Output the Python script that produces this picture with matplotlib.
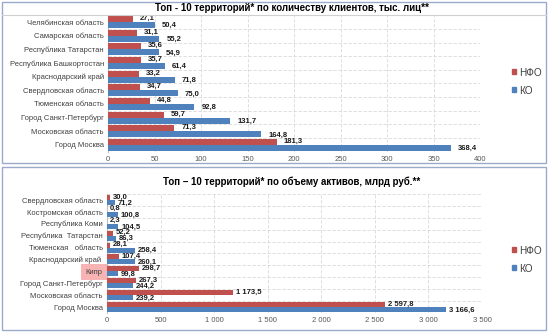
import matplotlib.pyplot as plt
import numpy as np
from matplotlib.patches import Rectangle
from matplotlib.lines import Line2D

# top panel: clients, thousand persons
regions_top = ["Челябинская область", "Самарская область", "Республика Татарстан",
               "Республика Башкортостан", "Краснодарский край", "Свердловская область",
               "Тюменская область", "Город Санкт-Петербург", "Московская область", "Город Москва"]
nfo_top = [27.1, 31.1, 35.6, 35.7, 33.2, 34.7, 44.8, 59.7, 71.3, 181.3]
ko_top = [50.4, 55.2, 54.9, 61.4, 71.8, 75.0, 92.8, 131.7, 164.8, 368.4]

# bottom panel: assets, bn rub
regions_bot = ["Свердловская область", "Костромская область", "Республика Коми",
               "Республика  Татарстан", "Тюменская   область", "Краснодарский край ",
               "Кипр", "Город Санкт-Петербург", "Московская область", "Город Москва"]
nfo_bot = [30.0, 0.8, 2.3, 52.2, 28.1, 107.4, 298.7, 267.3, 1173.5, 2597.8]
ko_bot = [71.2, 100.8, 104.5, 86.3, 258.4, 260.1, 99.8, 244.2, 239.2, 3166.6]

RED = "#C0504D"
BLUE = "#4F81BD"
plt.rcParams['font.family'] = ['Liberation Sans', 'DejaVu Sans']

W, H = 549, 332
fig = plt.figure(figsize=(W / 100, H / 100), dpi=100)


def fmt(v):
    s = f"{v:,.1f}".replace(",", " ").replace(".", ",")
    return s


def px_rect(x0, y0, x1, y1):
    return [x0 / W, 1 - y1 / H, (x1 - x0) / W, (y1 - y0) / H]


def panel(rect, cats, nfo, ko, xmax, xstep, title, title_y, off_px, bh, leg_y, tick_fmt):
    ax = fig.add_axes(rect)
    y = np.arange(len(cats))
    ax.barh(y - bh / 2, nfo, height=bh, color=RED, label="НФО", zorder=3)
    ax.barh(y + bh / 2, ko, height=bh, color=BLUE, label="КО", zorder=3)
    ax.set_xlim(0, xmax)
    ax.set_ylim(len(cats) - 0.5, -0.5)
    ax.set_xticks(np.arange(0, xmax + 1, xstep))
    ax.set_xticklabels([tick_fmt(t) for t in np.arange(0, xmax + 1, xstep)])
    ax.set_yticks(y)
    ax.set_yticklabels(cats)
    ax.set_yticks(np.arange(-0.5, len(cats)), minor=True)
    ax.tick_params(axis='both', length=0, labelsize=5.5, pad=3)
    ax.tick_params(axis='y', colors="#404040")
    ax.tick_params(axis='x', colors="#595959")
    ax.tick_params(axis='y', which='minor', length=0)
    ax.grid(axis='x', which='major', color="#D9D9D9", ls=(0, (4, 2)), lw=0.6, zorder=0)
    ax.grid(axis='y', which='minor', color="#D9D9D9", ls=(0, (4, 2)), lw=0.6, zorder=0)
    for s in ["top", "right", "bottom"]:
        ax.spines[s].set_visible(False)
    ax.spines["left"].set_color("#BFBFBF")
    ax.spines["left"].set_linewidth(0.8)
    off = off_px * xmax / (rect[2] * W)
    for i in range(len(cats)):
        ax.text(nfo[i] + off, y[i] - bh / 2 - 0.05, fmt(nfo[i]), fontsize=5.5,
                fontweight='bold', va='center', ha='left', color="#1a1a1a", zorder=4)
        ax.text(ko[i] + off, y[i] + bh / 2 + 0.05, fmt(ko[i]), fontsize=5.5,
                fontweight='bold', va='center', ha='left', color="#1a1a1a", zorder=4)
    fig.text(0.532, title_y, title, fontsize=7, fontweight='bold', ha='center', va='center')
    handles = [Rectangle((0, 0), 1, 1, color=RED), Rectangle((0, 0), 1, 1, color=BLUE)]
    fig.legend(handles, ["НФО", "КО"], loc='center left', bbox_to_anchor=(507 / W, leg_y),
               frameon=False, fontsize=7.2, handlelength=0.4, handleheight=0.4,
               handletextpad=0.3, labelspacing=0.8, borderpad=0, labelcolor="#404040")
    return ax


def thin(t):
    return f"{int(t):,}".replace(",", " ")


panel(px_rect(108, 15.2, 480, 151.8), regions_top, nfo_top, ko_top, 400, 50,
      "Топ - 10 территорий* по количеству клиентов, тыс. лиц**", 1 - 8 / H, 7, 0.44,
      1 - 81.5 / H, lambda t: f"{int(t)}")
ax2 = panel(px_rect(107, 194, 482, 313), regions_bot, nfo_bot, ko_bot, 3500, 500,
            "Топ – 10 территорий* по объему активов, млрд руб.**", 1 - 182 / H, 3, 0.42,
            1 - 259.5 / H, thin)

# highlight "Кипр"
for lab in ax2.get_yticklabels():
    if lab.get_text() == "Кипр":
        lab.set_bbox(dict(facecolor="#F8B4B4", edgecolor="none", pad=3.2))

# panel frames and header line
for (x0, y0, x1, y1) in [(2, 2, 546, 163), (2, 167, 546, 330)]:
    fig.patches.append(Rectangle((x0 / W, 1 - y1 / H), (x1 - x0) / W, (y1 - y0) / H,
                                 transform=fig.transFigure, fill=False,
                                 edgecolor="#9AAACB", lw=1.0))
fig.lines.append(Line2D([2 / W, 546 / W], [1 - 15 / H, 1 - 15 / H],
                        transform=fig.transFigure, color="#D0D0D0", lw=0.8))

fig.savefig("out.png", dpi=100, facecolor="white")
